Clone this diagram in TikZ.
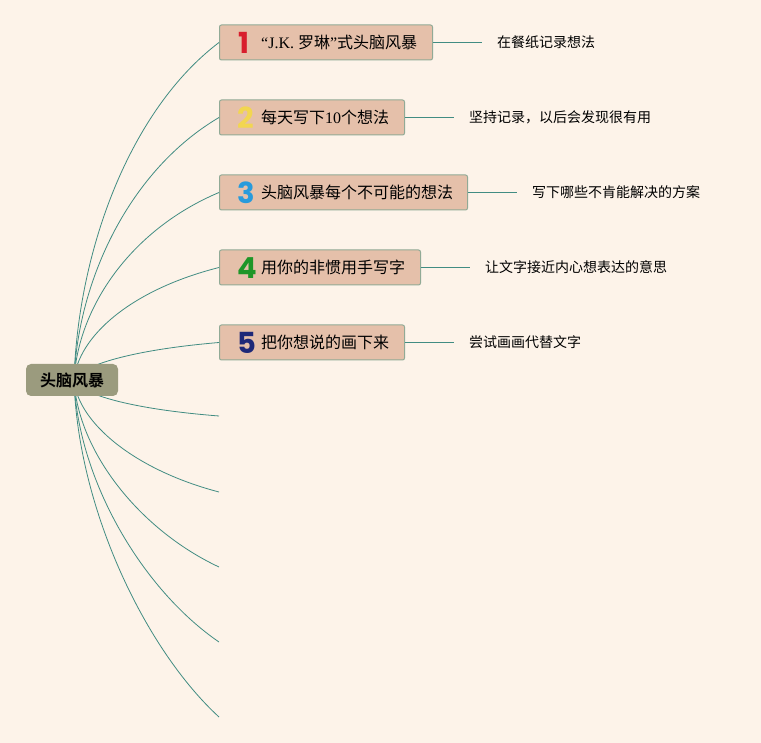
\documentclass[tikz,border=0pt]{standalone}
\usepackage{fontspec}
\setmainfont{Liberation Serif}
\newfontfamily\cjk{Noto Sans CJK SC}
\newfontfamily\cjkb{Noto Sans CJK SC Bold}
\newfontfamily\numfont{Poppins}
\definecolor{bg}{RGB}{253,243,233}
\definecolor{rootfill}{RGB}{155,155,126}
\definecolor{boxfill}{RGB}{229,192,170}
\definecolor{boxline}{RGB}{145,170,150}
\definecolor{linkc}{RGB}{65,140,130}
\definecolor{nred}{RGB}{216,30,45}
\definecolor{nyellow}{RGB}{242,214,80}
\definecolor{nblue}{RGB}{40,155,220}
\definecolor{ngreen}{RGB}{30,150,40}
\definecolor{nnavy}{RGB}{30,40,120}
\tikzset{
  rootbox/.style={draw=none, fill=rootfill, rounded corners=5pt, minimum width=92pt, minimum height=32pt, inner sep=0pt, font=\cjkb\fontsize{16}{18}\selectfont},
  topicbox/.style={draw=boxline, line width=1pt, fill=boxfill, rounded corners=2pt, minimum height=35pt, inner sep=0pt, anchor=west},
  numtxt/.style={inner sep=0pt, anchor=west, font=\numfont\bfseries\fontsize{29}{29}\selectfont},
  topictxt/.style={inner sep=0pt, anchor=west, font=\cjk\fontsize{16}{18}\selectfont},
  leaf/.style={inner xsep=15pt, inner ysep=0pt, anchor=west, font=\cjk\fontsize{14}{16}\selectfont},
  link/.style={draw=linkc, line width=0.8pt},
}
\begin{document}
\begin{tikzpicture}[x=1pt,y=-1pt]
\useasboundingbox[fill=bg] (0,0) rectangle (761,743);
% branch curves from the root
\coordinate (o) at (74,380);
\coordinate (e6) at (219,416);
\coordinate (e7) at (219,492);
\coordinate (e8) at (219,567);
\coordinate (e9) at (219,642);
\coordinate (e10) at (219,717);
% topic boxes
\node[topicbox, minimum width=213pt] (b1) at (219,42.5) {};
\node[topicbox, minimum width=185pt] (b2) at (219,117.5) {};
\node[topicbox, minimum width=248pt] (b3) at (219,192.5) {};
\node[topicbox, minimum width=201pt] (b4) at (219,267.5) {};
\node[topicbox, minimum width=185pt] (b5) at (219,342.5) {};
\draw[link] (o) .. controls (78,250) and (130,110) .. (b1.west);
\draw[link] (o) .. controls (78,279) and (130,170) .. (b2.west);
\draw[link] (o) .. controls (78,308) and (130,230) .. (b3.west);
\draw[link] (o) .. controls (78,337) and (130,290) .. (b4.west);
\draw[link] (o) .. controls (80,366) and (130,350) .. (b5.west);
\draw[link] (o) .. controls (80,394) and (130,409) .. (e6);
\draw[link] (o) .. controls (78,423) and (135,470) .. (e7);
\draw[link] (o) .. controls (78,452) and (140,530) .. (e8);
\draw[link] (o) .. controls (78,481) and (143,590) .. (e9);
\draw[link] (o) .. controls (78,510) and (146,650) .. (e10);
\node[rootbox] (root) at (72,380) {头脑风暴};
% numbers
\node[numtxt, text=nred] (n1) at (238,43) {1};
\node[numtxt, text=nyellow] (n2) at (237,118) {2};
\node[numtxt, text=nblue] (n3) at (237,193) {3};
\node[numtxt, text=ngreen] (n4) at (237,268) {4};
\node[numtxt, text=nnavy] (n5) at (237,343) {5};
% topic texts
\node[topictxt] (t1) at (261,42.5) {\rmfamily “J.K. {\cjk 罗琳}”{\cjk 式头脑风暴}};
\node[topictxt] (t2) at (261,117.5) {每天写下{\rmfamily 10}个想法};
\node[topictxt] (t3) at (261,192.5) {头脑风暴每个不可能的想法};
\node[topictxt] (t4) at (261,267.5) {用你的非惯用手写字};
\node[topictxt] (t5) at (261,342.5) {把你想说的画下来};
% leaves
\node[leaf] (l1) at (482,42.5) {在餐纸记录想法};
\node[leaf] (l2) at (454,117.5) {坚持记录，以后会发现很有用};
\node[leaf] (l3) at (517,192.5) {写下哪些不肯能解决的方案};
\node[leaf] (l4) at (470,267.5) {让文字接近内心想表达的意思};
\node[leaf] (l5) at (454,342.5) {尝试画画代替文字};
\draw[link] (b1.east) -- (b1.east -| l1.west);
\draw[link] (b2.east) -- (b2.east -| l2.west);
\draw[link] (b3.east) -- (b3.east -| l3.west);
\draw[link] (b4.east) -- (b4.east -| l4.west);
\draw[link] (b5.east) -- (b5.east -| l5.west);
\end{tikzpicture}
\end{document}
